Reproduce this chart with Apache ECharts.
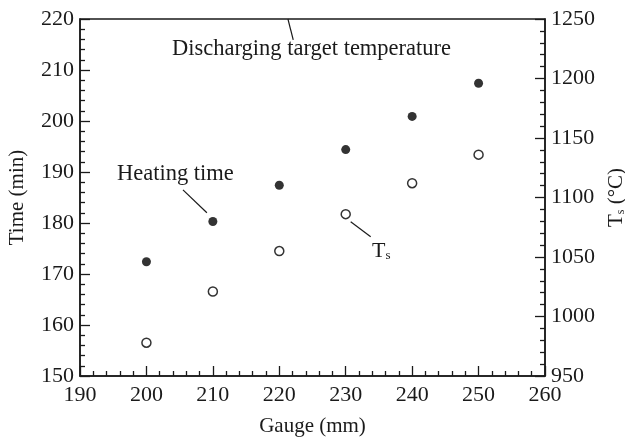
<!DOCTYPE html>
<html><head><meta charset="utf-8">
<script src="https://cdn.jsdelivr.net/npm/echarts@6/dist/echarts.min.js"></script>
<style>html,body{margin:0;padding:0;background:#fff}#c{width:625px;height:442px}</style>
</head><body><div id="c"></div>
<script>
const gauges = [200, 210, 220, 230, 240, 250];
const heatingTime = [172.4, 180.3, 187.4, 194.4, 200.9, 207.4];
const surfaceTemp = [978, 1021, 1055, 1086, 1112, 1136];
const FONT = '"Liberation Serif","Times New Roman",serif';
const INK = '#1a1a1a';
const chart = echarts.init(document.getElementById('c'));
const axisLine = {show:true, lineStyle:{color:INK, width:1.5}};
const tick = {inside:true, length:10, lineStyle:{color:INK, width:1.3}};
const minor = {show:true, splitNumber:5, length:5, lineStyle:{color:INK, width:1.3}};
chart.setOption({
  animation:false,
  backgroundColor:'#fff',
  grid:{left:80, right:80, top:19, bottom:66, containLabel:false, outerBoundsMode:'none', show:true, borderColor:INK, borderWidth:1.5},
  xAxis:{type:'value', min:190, max:260, interval:10,
    name:'Gauge (mm)', nameLocation:'middle', nameGap:40,
    nameTextStyle:{fontFamily:FONT, fontSize:21, color:INK},
    axisLine:axisLine, axisTick:tick, minorTick:minor, splitLine:{show:false},
    axisLabel:{fontFamily:FONT, fontSize:22, color:INK, margin:8}},
  yAxis:[{type:'value', min:150, max:220, interval:10, position:'left',
    name:'Time (min)', nameLocation:'middle', nameGap:52, nameRotate:90,
    nameTextStyle:{fontFamily:FONT, fontSize:21, color:INK},
    axisLine:axisLine, axisTick:tick, minorTick:minor, splitLine:{show:false},
    axisLabel:{fontFamily:FONT, fontSize:22, color:INK, margin:6}},
   {type:'value', min:950, max:1250, interval:50, position:'right',
    name:'{t|T}{s|s}{t| (°C)}', nameLocation:'middle', nameGap:58, nameRotate:90,
    nameTextStyle:{fontFamily:FONT, color:INK, rich:{t:{fontFamily:FONT, fontSize:21, color:INK}, s:{fontFamily:FONT, fontSize:12, color:INK, padding:[9,0,0,0]}}},
    axisLine:axisLine, axisTick:tick, minorTick:minor, splitLine:{show:false},
    axisLabel:{fontFamily:FONT, fontSize:22, color:INK, margin:6, formatter:v=>String(v)}}],
  series:[
    {type:'scatter', yAxisIndex:0, symbol:'circle', symbolSize:9,
     itemStyle:{color:'#000'}, data:gauges.map((g,i)=>[g, heatingTime[i]]),
     markLine:{silent:true, symbol:'none', label:{show:false}, lineStyle:{color:INK, width:1.2, type:'solid'},
       data:[[{coord:[205.5,186.5]},{coord:[209.1,182.0]}],
             [{coord:[221.3,220]},{coord:[222.1,215.9]}]]}},
    {type:'scatter', yAxisIndex:1, symbol:'circle', symbolSize:9,
     itemStyle:{color:'#fff', borderColor:'#000', borderWidth:1.5}, data:gauges.map((g,i)=>[g, surfaceTemp[i]]),
     markLine:{silent:true, symbol:'none', label:{show:false}, lineStyle:{color:INK, width:1.2, type:'solid'},
       data:[[{coord:[230.75,1079.7]},{coord:[233.76,1067]}]]}}
  ],
  graphic:[
    {type:'text', left:172, top:38, style:{text:'Discharging target temperature', font:'22.5px '+FONT, fill:INK}},
    {type:'text', left:117, top:163, style:{text:'Heating time', font:'22.5px '+FONT, fill:INK}},
    {type:'text', left:372, top:240, style:{text:'{t|T}{s|s}', fill:INK, rich:{t:{font:'22px '+FONT, fill:INK}, s:{font:'13px '+FONT, fill:INK, padding:[10,0,0,0]}}}}
  ]
});
</script></body></html>
